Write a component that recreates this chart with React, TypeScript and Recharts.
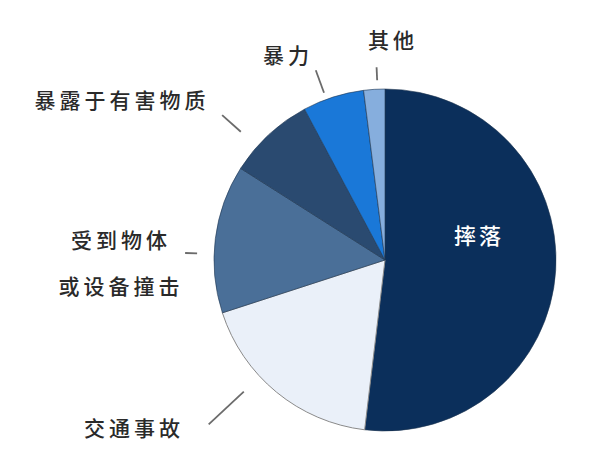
import { Cell, Pie, PieChart } from "recharts";

const categories = ["摔落", "交通事故", "受到物体或设备撞击", "暴露于有害物质", "暴力", "其他"];
const shares = [51.9, 18.1, 14.0, 8.2, 5.8, 2.0];
const colors = ["#0b2f5b", "#eaf0f9", "#4a6f98", "#2a4a70", "#1a78d8", "#86aedd"];

const data = categories.map((name, i) => ({ name, value: shares[i] }));

const RAD = Math.PI / 180;
const FONT = '"Noto Sans CJK SC", "Noto Sans", sans-serif';

// label placement: text offset from centre, leader line angle shift (deg) and radii
const layout: Record<string, { tx: number; ty: number; shift: number; r1: number; r2: number; lines: string[] }> = {
  摔落: { tx: 92, ty: -26, shift: 0, r1: 0, r2: 0, lines: ["摔落"] },
  交通事故: { tx: -253, ty: 167, shift: -7.6, r1: 193, r2: 241, lines: ["交通事故"] },
  受到物体或设备撞击: { tx: -266, ty: 2, shift: 5.2, r1: 188, r2: 200, lines: ["受到物体", "或设备撞击"] },
  暴露于有害物质: { tx: -265, ty: -161, shift: 5.5, r1: 193, r2: 218, lines: ["暴露于有害物质"] },
  暴力: { tx: -99, ty: -206, shift: 2.4, r1: 178, r2: 202, lines: ["暴力"] },
  其他: { tx: 6, ty: -221, shift: -1.1, r1: 180, r2: 193, lines: ["其他"] },
};

const renderLabel = (props: any) => {
  const { cx, cy, midAngle, name } = props;
  const l = layout[name];
  if (!l) return null;
  const inside = name === "摔落";
  const a = (midAngle + l.shift) * RAD;
  const x1 = cx + l.r1 * Math.cos(-a);
  const y1 = cy + l.r1 * Math.sin(-a);
  const x2 = cx + l.r2 * Math.cos(-a);
  const y2 = cy + l.r2 * Math.sin(-a);
  const gap = 46;
  const top = -((l.lines.length - 1) * gap) / 2;
  return (
    <g>
      {!inside && (
        <line x1={x1} y1={y1} x2={x2} y2={y2} stroke="#6b6b6b" strokeWidth={1.8} />
      )}
      {l.lines.map((t, i) => (
        <text
          key={t}
          x={cx + l.tx + 2}
          y={cy + l.ty + top + i * gap}
          textAnchor="middle"
          dominantBaseline="central"
          fontFamily={FONT}
          fontSize={inside ? 22 : 21}
          fontWeight={500}
          letterSpacing={inside ? 3 : 4}
          fill={inside ? "#ffffff" : "#2a2a2a"}
        >
          {t}
        </text>
      ))}
    </g>
  );
};

export default function App() {
  return (
    <div style={{ position: "absolute", left: 0, top: 0, width: 590, height: 476, background: "#fff" }}>
      <PieChart width={590} height={476}>
        <Pie
          data={data}
          dataKey="value"
          nameKey="name"
          cx={380}
          cy={255}
          outerRadius={171}
          startAngle={90}
          endAngle={-270}
          label={renderLabel}
          labelLine={false}
          isAnimationActive={false}
        >
          {data.map((d, i) => (
            <Cell
              key={d.name}
              fill={colors[i]}
              stroke={i === 1 ? "#8a8a8a" : "#1f3550"}
              strokeWidth={i === 1 ? 1 : 0.6}
            />
          ))}
        </Pie>
      </PieChart>
    </div>
  );
}
